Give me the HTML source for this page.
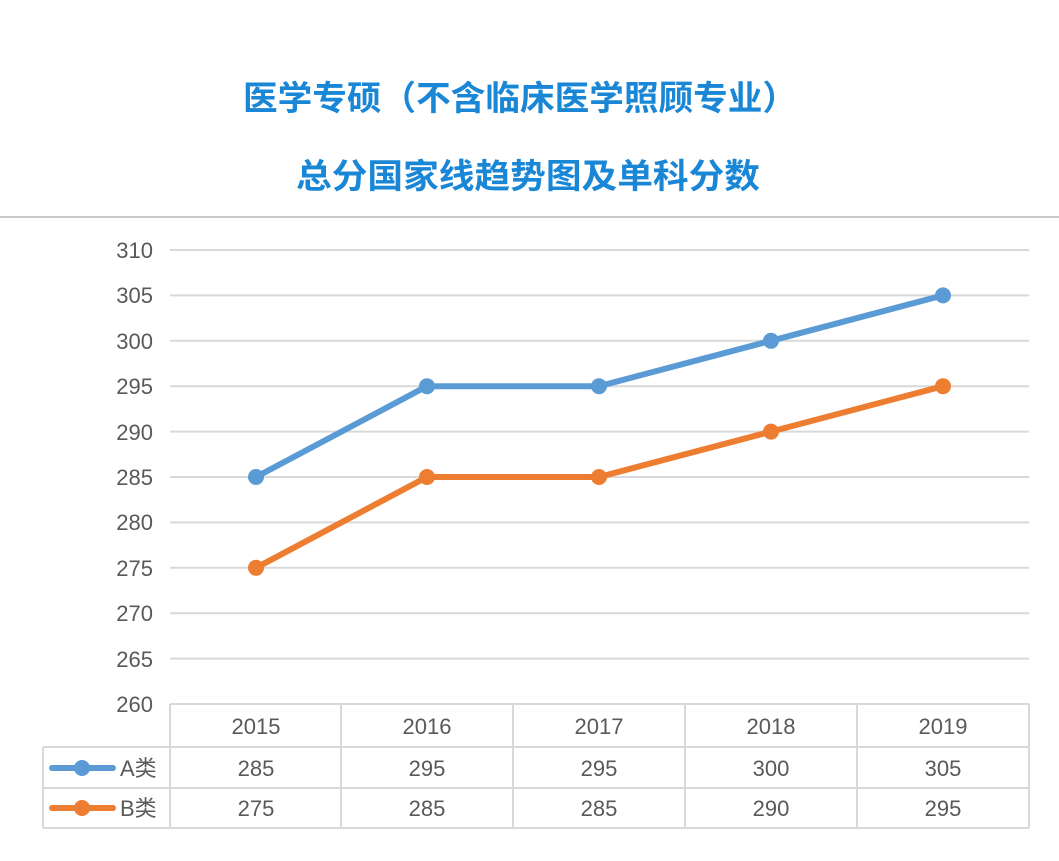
<!DOCTYPE html>
<html><head><meta charset="utf-8"><style>html,body{margin:0;padding:0;background:#fff}svg{display:block}</style></head>
<body>
<svg width="1059" height="861" viewBox="0 0 1059 861" xmlns="http://www.w3.org/2000/svg" font-family="Liberation Sans, Noto Sans CJK SC, sans-serif">
<rect width="1059" height="861" fill="#fff"/>
<g fill="#1a87d6" font-weight="bold" font-family="Noto Sans CJK SC, sans-serif" font-size="34">
<text x="243" y="110" textLength="554" lengthAdjust="spacingAndGlyphs">医学专硕（不含临床医学照顾专业）</text>
<text x="296" y="188" textLength="464" lengthAdjust="spacingAndGlyphs">总分国家线趋势图及单科分数</text>
</g>
<line x1="0" y1="217" x2="1059" y2="217" stroke="#c8c8c8" stroke-width="2"/>
<g stroke="#d9d9d9" stroke-width="2">
<line x1="170" y1="250" x2="1029" y2="250"/><line x1="170" y1="295.4" x2="1029" y2="295.4"/>
<line x1="170" y1="340.8" x2="1029" y2="340.8"/><line x1="170" y1="386.2" x2="1029" y2="386.2"/>
<line x1="170" y1="431.6" x2="1029" y2="431.6"/><line x1="170" y1="477" x2="1029" y2="477"/>
<line x1="170" y1="522.4" x2="1029" y2="522.4"/><line x1="170" y1="567.8" x2="1029" y2="567.8"/>
<line x1="170" y1="613.2" x2="1029" y2="613.2"/><line x1="170" y1="658.6" x2="1029" y2="658.6"/>
</g>
<g fill="#595959" font-size="22" text-anchor="end">
<text x="153" y="258">310</text><text x="153" y="303">305</text><text x="153" y="349">300</text>
<text x="153" y="394">295</text><text x="153" y="440">290</text><text x="153" y="485">285</text>
<text x="153" y="530">280</text><text x="153" y="576">275</text><text x="153" y="621">270</text>
<text x="153" y="667">265</text><text x="153" y="712">260</text>
</g>
<g stroke="#d9d9d9" stroke-width="2" fill="none">
<line x1="170" y1="704" x2="1029" y2="704"/>
<line x1="43" y1="747" x2="1029" y2="747"/>
<line x1="43" y1="788" x2="1029" y2="788"/>
<line x1="43" y1="828" x2="1029" y2="828"/>
<line x1="43" y1="747" x2="43" y2="828"/>
<line x1="170" y1="704" x2="170" y2="828"/><line x1="341" y1="704" x2="341" y2="828"/>
<line x1="513" y1="704" x2="513" y2="828"/><line x1="685" y1="704" x2="685" y2="828"/>
<line x1="857" y1="704" x2="857" y2="828"/><line x1="1029" y1="704" x2="1029" y2="828"/>
</g>
<g fill="#595959" font-size="22" text-anchor="middle">
<text x="256" y="734">2015</text><text x="427" y="734">2016</text><text x="599" y="734">2017</text><text x="771" y="734">2018</text><text x="943" y="734">2019</text>
<text x="256" y="776">285</text><text x="427" y="776">295</text><text x="599" y="776">295</text><text x="771" y="776">300</text><text x="943" y="776">305</text>
<text x="256" y="816">275</text><text x="427" y="816">285</text><text x="599" y="816">285</text><text x="771" y="816">290</text><text x="943" y="816">295</text>
</g>
<g fill="#595959" font-size="22" font-family="Liberation Sans, Noto Sans CJK SC, sans-serif">
<text x="120" y="776">A类</text><text x="120" y="816">B类</text>
</g>
<line x1="52" y1="768" x2="113" y2="768" stroke="#5b9bd5" stroke-width="6" stroke-linecap="round"/>
<circle cx="82" cy="768" r="8" fill="#5b9bd5"/>
<line x1="52" y1="808" x2="113" y2="808" stroke="#ed7d31" stroke-width="6" stroke-linecap="round"/>
<circle cx="82" cy="808" r="8" fill="#ed7d31"/>
<polyline points="256,477 427,386.2 599,386.2 771,340.8 943,295.4" fill="none" stroke="#5b9bd5" stroke-width="6" stroke-linejoin="round"/>
<g fill="#5b9bd5"><circle cx="256" cy="477" r="8"/><circle cx="427" cy="386.2" r="8"/><circle cx="599" cy="386.2" r="8"/><circle cx="771" cy="340.8" r="8"/><circle cx="943" cy="295.4" r="8"/></g>
<polyline points="256,567.8 427,477 599,477 771,431.6 943,386.2" fill="none" stroke="#ed7d31" stroke-width="6" stroke-linejoin="round"/>
<g fill="#ed7d31"><circle cx="256" cy="567.8" r="8"/><circle cx="427" cy="477" r="8"/><circle cx="599" cy="477" r="8"/><circle cx="771" cy="431.6" r="8"/><circle cx="943" cy="386.2" r="8"/></g>
</svg>
</body></html>
